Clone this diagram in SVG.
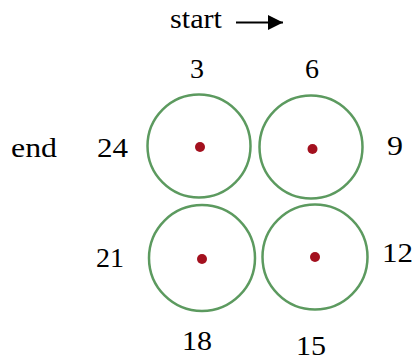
<svg xmlns="http://www.w3.org/2000/svg" width="414" height="360" viewBox="0 0 414 360">
<defs>
<style>
.c{fill:none;stroke:#5c9a5f;stroke-width:2.5}
.d{fill:#a3101e}
</style>
<marker id="ah" markerWidth="15" markerHeight="15" refX="15" refY="7.5" orient="auto" markerUnits="userSpaceOnUse">
<path d="M0,0 L15,7.5 L0,15 Z" fill="#000"/>
</marker>
</defs>
<rect width="414" height="360" fill="#fff"/>
<g id="connectors">
<line x1="236" y1="22.5" x2="283" y2="22.5" stroke="#000" stroke-width="2" marker-end="url(#ah)"/>
</g>
<g id="labels" font-family="Liberation Serif, DejaVu Serif, serif" font-size="27" fill="#000">
<text x="170" y="28" textLength="52" lengthAdjust="spacingAndGlyphs">start</text>
<text x="190" y="78" textLength="14" lengthAdjust="spacingAndGlyphs">3</text>
<text x="305" y="78" textLength="14" lengthAdjust="spacingAndGlyphs">6</text>
<text x="11" y="157" textLength="46" lengthAdjust="spacingAndGlyphs">end</text>
<text x="97" y="157" textLength="31" lengthAdjust="spacingAndGlyphs">24</text>
<text x="387" y="155" textLength="16" lengthAdjust="spacingAndGlyphs">9</text>
<text x="96" y="267" textLength="28" lengthAdjust="spacingAndGlyphs">21</text>
<text x="382" y="262" textLength="31" lengthAdjust="spacingAndGlyphs">12</text>
<text x="182" y="350" textLength="30" lengthAdjust="spacingAndGlyphs">18</text>
<text x="296" y="355" textLength="30" lengthAdjust="spacingAndGlyphs">15</text>
</g>
<g id="n3"><circle class="c" cx="199" cy="146" r="51.5"/><circle class="d" cx="200" cy="147" r="5"/></g>
<g id="n6"><circle class="c" cx="311" cy="147" r="51.5"/><circle class="d" cx="312.5" cy="149" r="5"/></g>
<g id="n21"><circle class="c" cx="202" cy="258" r="53"/><circle class="d" cx="202" cy="259" r="5"/></g>
<g id="n12"><circle class="c" cx="315" cy="257" r="52.5"/><circle class="d" cx="315" cy="257" r="5"/></g>
</svg>
